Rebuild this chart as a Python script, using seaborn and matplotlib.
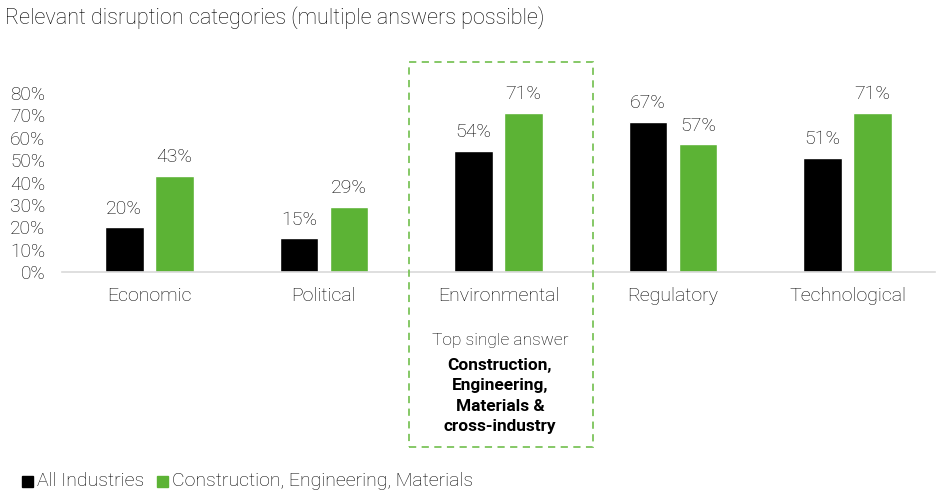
import matplotlib
matplotlib.use('Agg')
import matplotlib.pyplot as plt
from matplotlib.patches import Rectangle
import seaborn as sns
import pandas as pd

categories = ['Economic', 'Political', 'Environmental', 'Regulatory', 'Technological']
all_industries = [0.20, 0.15, 0.54, 0.67, 0.51]
construction = [0.43, 0.29, 0.71, 0.57, 0.71]
series_names = ['All Industries', 'Construction, Engineering, Materials']
yticks = [0, 0.1, 0.2, 0.3, 0.4, 0.5, 0.6, 0.7, 0.8]

BLACK = '#000000'
GREEN = '#5CB335'
BOX_GREEN = '#7CC45A'
TEXT = '#000000'

sns.set_theme(style='white')
plt.rcParams['font.family'] = ['Roboto', 'DejaVu Sans']

df = pd.DataFrame({
    'category': categories * 2,
    'value': all_industries + construction,
    'series': [series_names[0]] * 5 + [series_names[1]] * 5,
})

fig = plt.figure(figsize=(9.4, 4.99), dpi=100)
ax = fig.add_axes([62 / 940, 1 - 272 / 499, 873 / 940, 179 / 499])

sns.barplot(data=df, x='category', y='value', hue='series',
            palette=[BLACK, GREEN], width=0.573, gap=0.23,
            saturation=1, ax=ax, legend=False)

ax.set_xlim(-0.5, 4.5)
ax.set_ylim(0, 0.8)
ax.set_yticks(yticks)
ax.set_yticklabels([f'{int(round(t * 100))}%' for t in yticks],
                   fontsize=13.8, fontweight='light', color=TEXT)
ax.tick_params(axis='y', length=0, pad=12)
ax.tick_params(axis='x', length=0, pad=11)
for lbl in ax.get_xticklabels():
    lbl.set_fontsize(14)
    lbl.set_fontweight('light')
    lbl.set_color(TEXT)
ax.set_xlabel('')
ax.set_ylabel('')
for s in ['top', 'right', 'left']:
    ax.spines[s].set_visible(False)
ax.spines['bottom'].set_color('#D9D9D9')
ax.spines['bottom'].set_linewidth(1.2)

for cont in ax.containers:
    ax.bar_label(cont, labels=[f'{int(round(v * 100))}%' for v in cont.datavalues],
                 padding=7, fontsize=14, fontweight='light', color=TEXT)

fig.text(5 / 940, 1 - 18 / 499, 'Relevant disruption categories (multiple answers possible)',
         fontsize=15.6, fontweight='light', color=TEXT, va='center', ha='left')

# dashed highlight box around Environmental
box = Rectangle((409 / 940, 1 - 447 / 499), 184 / 940, 385 / 499,
                transform=fig.transFigure, fill=False, edgecolor=BOX_GREEN,
                linestyle=(0, (4, 3)), linewidth=1.3)
fig.add_artist(box)
fig.text(500 / 940, 1 - 340 / 499, 'Top single answer', fontsize=12.5,
         fontweight='light', color=TEXT, ha='center', va='center')
fig.text(500 / 940, 1 - 396 / 499, 'Construction,\nEngineering,\nMaterials &\ncross-industry',
         fontsize=12.4, fontweight='bold', color='#000000', ha='center', va='center',
         linespacing=1.42)

# legend
fig.add_artist(Rectangle((22 / 940, 1 - 487 / 499), 11 / 940, 11 / 499,
                         transform=fig.transFigure, color=BLACK))
fig.text(37 / 940, 1 - 481 / 499, series_names[0], fontsize=14,
         fontweight='light', color=TEXT, va='center')
fig.add_artist(Rectangle((157 / 940, 1 - 487 / 499), 11 / 940, 11 / 499,
                         transform=fig.transFigure, color=GREEN))
fig.text(172 / 940, 1 - 481 / 499, series_names[1], fontsize=14,
         fontweight='light', color=TEXT, va='center')

fig.savefig('out.png', dpi=100)
